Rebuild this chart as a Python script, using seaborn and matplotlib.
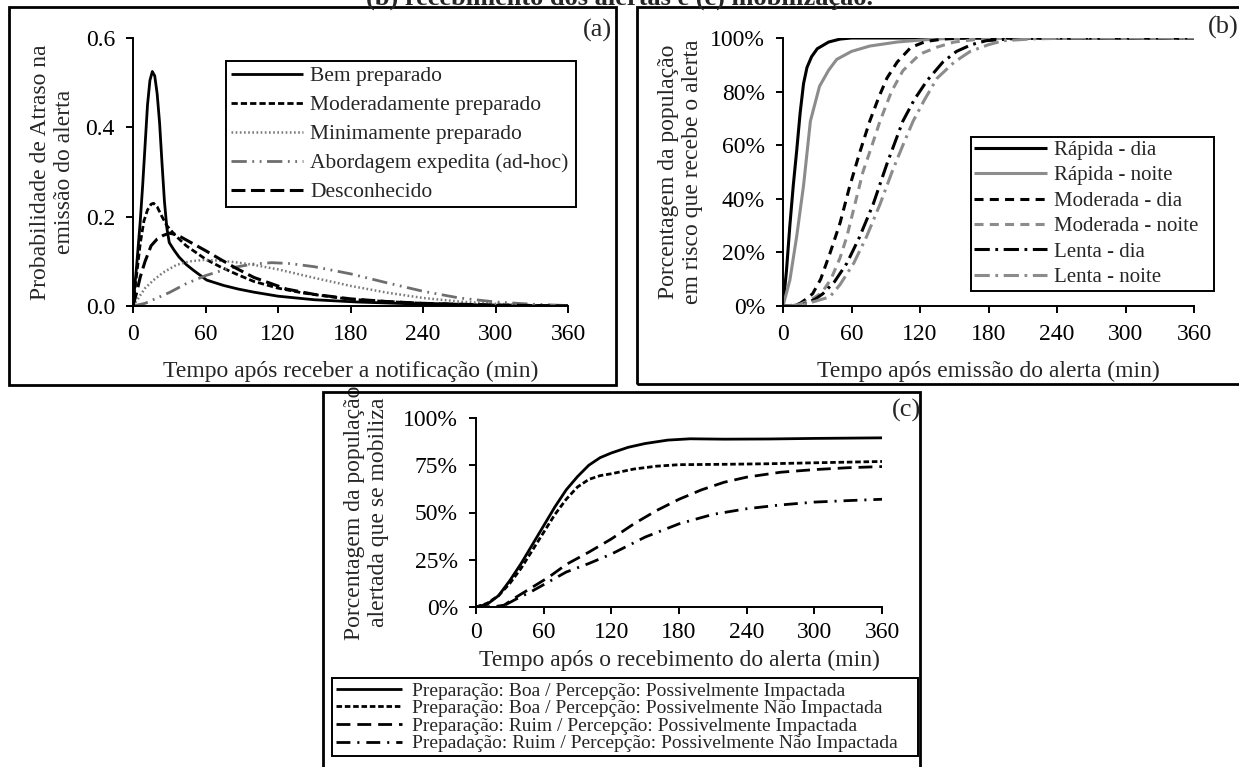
import matplotlib
matplotlib.use("Agg")
import matplotlib.pyplot as plt
import seaborn as sns
from matplotlib.patches import Rectangle
from matplotlib.ticker import FuncFormatter, FormatStrFormatter

# ---- painel (a): probabilidade de atraso na emissao do alerta ----
bem_t = [0, 3, 6, 8, 10, 12, 14, 16, 18, 20, 22, 24, 26, 28, 30, 34, 38, 44, 50, 61, 75, 87, 100, 120, 150, 185, 240, 300, 360]
bem_y = [0, 0.09, 0.19, 0.27, 0.36, 0.45, 0.505, 0.525, 0.515, 0.475, 0.41, 0.32, 0.235, 0.175, 0.142, 0.125, 0.11, 0.093, 0.08, 0.058, 0.046, 0.038, 0.031, 0.022, 0.014, 0.009, 0.004, 0.0015, 0]
mod_t = [0, 3, 6, 9, 12, 15, 17, 20, 24, 28, 35, 44, 60, 72, 85, 100, 120, 141, 160, 180, 210, 240, 300, 360]
mod_y = [0, 0.07, 0.14, 0.19, 0.215, 0.228, 0.23, 0.222, 0.2, 0.18, 0.158, 0.135, 0.105, 0.088, 0.072, 0.055, 0.04, 0.029, 0.022, 0.015, 0.01, 0.006, 0.002, 0]
min_t = [0, 5, 10, 17, 25, 36, 47, 58, 70, 85, 100, 120, 150, 180, 210, 240, 270, 300, 330, 360]
min_y = [0, 0.02, 0.04, 0.058, 0.075, 0.092, 0.1, 0.103, 0.102, 0.098, 0.092, 0.082, 0.063, 0.045, 0.03, 0.018, 0.01, 0.005, 0.002, 0]
abo_t = [0, 10, 20, 30, 44, 60, 80, 100, 115, 130, 150, 180, 210, 240, 270, 300, 330, 360]
abo_y = [0, 0.006, 0.018, 0.03, 0.05, 0.068, 0.085, 0.094, 0.097, 0.095, 0.088, 0.072, 0.052, 0.033, 0.018, 0.009, 0.004, 0.001]
des_t = [0, 3, 6, 10, 15, 20, 25, 30, 36, 44, 60, 72, 85, 100, 127, 150, 180, 210, 240, 300, 360]
des_y = [0, 0.03, 0.065, 0.1, 0.135, 0.15, 0.158, 0.163, 0.16, 0.148, 0.124, 0.105, 0.085, 0.064, 0.038, 0.026, 0.016, 0.01, 0.006, 0.002, 0]

# ---- painel (b): % da populacao em risco que recebe o alerta ----
rdia_t = [0, 3, 6, 9, 12, 15, 18, 21, 25, 30, 40, 50, 60, 360]
rdia_y = [0, 13, 30, 45, 58, 72, 83, 89, 93, 96, 98.5, 99.6, 100, 100]
rnoi_t = [0, 6, 12, 18, 24, 32, 40, 47, 60, 76, 100, 120, 150, 360]
rnoi_y = [0, 9.6, 26, 45, 69, 82, 88, 92, 95, 97, 98.5, 99.2, 100, 100]
mdia_t = [0, 10, 15, 20, 26, 33, 41, 50, 58, 67, 76, 84, 91, 100, 112, 125, 140, 160, 360]
mdia_y = [0, 0.3, 1, 2.5, 4.6, 10, 19.5, 31, 44, 57, 69, 78, 85, 91, 96.5, 98.7, 99.6, 100, 100]
mnoi_t = [0, 10, 15, 20, 27, 34, 42, 50, 56, 63, 70, 78, 85, 95, 105, 120, 135, 150, 170, 200, 360]
mnoi_y = [0, 0.2, 0.7, 1.5, 3, 5, 10, 18, 26, 38, 50, 60, 69, 80, 87.8, 94, 96.6, 98.5, 99.5, 100, 100]
ldia_t = [0, 10, 20, 28, 35, 45, 56, 67, 79, 91, 105, 115, 126, 140, 152, 165, 178, 200, 230, 360]
ldia_y = [0, 0.2, 1, 2.5, 4.6, 9, 16, 25.7, 38, 53, 69, 77, 84, 91, 95, 97.5, 99, 99.7, 100, 100]
lnoi_t = [0, 10, 20, 30, 41, 50, 62, 73, 85, 96, 106, 114, 124, 135, 150, 164, 180, 193, 220, 260, 360]
lnoi_y = [0, 0.2, 0.8, 2, 3.4, 8, 16, 25.7, 38, 50.6, 61, 69, 77, 85, 91, 95, 97.5, 99, 99.7, 100, 100]

# ---- painel (c): % da populacao alertada que se mobiliza ----
bi_t = [0, 10, 20, 30, 40, 50, 60, 70, 80, 90, 100, 110, 120, 135, 150, 170, 190, 220, 260, 300, 360]
bi_y = [0, 1.5, 6, 14, 23, 33, 43, 53, 62, 69, 75, 79, 81.5, 84.5, 86.5, 88.3, 89, 88.8, 88.9, 89.2, 89.5]
bn_t = [0, 10, 20, 30, 40, 50, 60, 70, 80, 90, 100, 110, 120, 140, 160, 180, 220, 260, 300, 360]
bn_y = [0, 2, 6, 12.5, 20.5, 30, 39.5, 49, 57, 63.5, 67.5, 69.5, 70.5, 73, 74.5, 75.3, 75.5, 75.8, 76.3, 77]
ri_t = [0, 15, 25, 35, 50, 65, 80, 100, 120, 140, 160, 180, 200, 220, 240, 270, 300, 330, 360]
ri_y = [0, 0, 1, 5, 10.5, 16, 22.5, 29, 36, 44, 51, 57, 62, 66, 68.7, 71.3, 72.7, 73.7, 74.3]
rn_t = [0, 15, 25, 35, 50, 65, 80, 100, 120, 150, 180, 210, 240, 270, 300, 330, 360]
rn_y = [0, 0, 0.8, 4, 8.5, 13.5, 18.5, 23, 28, 37, 44, 49, 52, 54, 55.5, 56.3, 57]

xticks = [0, 60, 120, 180, 240, 300, 360]

W, H = 1239, 767
FS = 17
sns.set_theme(style="white")
plt.rcParams["font.family"] = ["Liberation Serif", "DejaVu Serif"]
plt.rcParams["lines.scale_dashes"] = False

fig = plt.figure(figsize=(W / 100, H / 100), dpi=100)


def fx(px):
    return px / W


def fy(py):
    return 1 - py / H


def axes_px(x0, x1, ytop, ybot):
    return fig.add_axes([fx(x0), fy(ybot), fx(x1) - fx(x0), fy(ytop) - fy(ybot)])


def style_axes(ax, xpad):
    sns.despine(ax=ax)
    for s in ["left", "bottom"]:
        ax.spines[s].set_linewidth(1.4)
        ax.spines[s].set_color("black")
    ax.set_xlim(0, 360)
    ax.set_xticks(xticks)
    ax.tick_params(axis="both", direction="out", length=5, width=1.4, color="black",
                   labelsize=FS, labelcolor="black")
    ax.tick_params(axis="x", pad=xpad, bottom=True)
    ax.tick_params(axis="y", pad=8, left=True)
    ax.set_facecolor("white")


def draw(ax, t, y, name, color, dashes, lw):
    sns.lineplot(x=t, y=y, ax=ax, color=color, linewidth=lw, label=name)
    ln = ax.lines[-1]
    if dashes is not None:
        ln.set_dashes(dashes)
    ln.set_solid_capstyle("butt")
    ln.set_dash_capstyle("butt")


def legend(ax, bbox, fs, hl, htp, ls, bp):
    leg = ax.legend(loc="upper left", bbox_to_anchor=bbox, mode="expand", fontsize=fs,
                    handlelength=hl, handletextpad=htp, labelspacing=ls, borderpad=bp,
                    frameon=True, fancybox=False, edgecolor="black", framealpha=1,
                    borderaxespad=0)
    leg.get_frame().set_linewidth(1.4)


# painel (a)
axa = axes_px(133, 568, 38, 306)
draw(axa, bem_t, bem_y, "Bem preparado", "black", None, 2.0)
draw(axa, mod_t, mod_y, "Moderadamente preparado", "black", (4.5, 2.2), 2.0)
draw(axa, min_t, min_y, "Minimamente preparado", "#7a7a7a", (1.2, 1.8), 1.8)
draw(axa, abo_t, abo_y, "Abordagem expedita (ad-hoc)", "#6e6e6e", (11, 4, 1.3, 4, 1.3, 4), 2.0)
draw(axa, des_t, des_y, "Desconhecido", "black", (10, 4), 2.2)
style_axes(axa, 8)
axa.set_ylim(0, 0.6)
axa.set_yticks([0, 0.2, 0.4, 0.6])
axa.yaxis.set_major_formatter(FormatStrFormatter("%.1f"))
axa.set_xlabel("Tempo após receber a notificação (min)", fontsize=FS)
axa.set_ylabel("Probabilidade de Atraso na\nemissão do alerta", fontsize=FS)
axa.xaxis.set_label_coords(0.5, -0.205)
axa.yaxis.set_label_coords(-0.133, 0.5)
legend(axa, (0.214, 0.351, 0.804, 0.563), 15.5, 3.3, 0.35, 0.41, 0.25)

# painel (b)
axb = axes_px(783, 1194, 38, 306)
draw(axb, rdia_t, rdia_y, "Rápida - dia", "black", None, 2.2)
draw(axb, rnoi_t, rnoi_y, "Rápida - noite", "#8c8c8c", None, 2.2)
draw(axb, mdia_t, mdia_y, "Moderada - dia", "black", (6.5, 4.5), 2.2)
draw(axb, mnoi_t, mnoi_y, "Moderada - noite", "#8c8c8c", (6.5, 4.5), 2.2)
draw(axb, ldia_t, ldia_y, "Lenta - dia", "black", (11, 4, 2, 4), 2.2)
draw(axb, lnoi_t, lnoi_y, "Lenta - noite", "#8c8c8c", (11, 4, 2, 4), 2.2)
style_axes(axb, 8)
axb.set_ylim(0, 100)
axb.set_yticks([0, 20, 40, 60, 80, 100])
axb.yaxis.set_major_formatter(FuncFormatter(lambda v, p: f"{v:.0f}%"))
axb.set_xlabel("Tempo após emissão do alerta (min)", fontsize=FS)
axb.set_ylabel("Porcentagem da população\nem risco que recebe o alerta", fontsize=FS)
axb.xaxis.set_label_coords(0.5, -0.205)
axb.yaxis.set_label_coords(-0.195, 0.5)
legend(axb, (0.457, 0.045, 0.592, 0.586), 15, 3.5, 0.3, 0.28, 0.17)

# painel (c)
axc = axes_px(476, 882, 418, 607)
draw(axc, bi_t, bi_y, "Preparação: Boa / Percepção: Possivelmente Impactada", "black", None, 2.0)
draw(axc, bn_t, bn_y, "Preparação: Boa / Percepção: Possivelmente Não Impactada", "black", (4, 2), 2.0)
draw(axc, ri_t, ri_y, "Preparação: Ruim / Percepção: Possivelmente Impactada", "black", (10, 5), 2.0)
draw(axc, rn_t, rn_y, "Prepadação: Ruim / Percepção: Possivelmente Não Impactada", "black", (10, 5, 1.5, 5), 2.0)
style_axes(axc, 6)
axc.set_ylim(0, 100)
axc.set_yticks([0, 25, 50, 75, 100])
axc.yaxis.set_major_formatter(FuncFormatter(lambda v, p: f"{v:.0f}%"))
axc.set_xlabel("Tempo após o recebimento do alerta (min)", fontsize=FS)
axc.set_ylabel("Porcentagem da população\nalertada que se mobiliza", fontsize=FS)
axc.xaxis.set_label_coords(0.5, -0.225)
axc.yaxis.set_label_coords(-0.214, 0.5)
legend(axc, (-0.355, -0.816, 1.444, 0.44), 14, 3.4, 0.5, 0.0, 0.2)

# molduras dos paineis
for x0, y0, x1, y1 in [(9, 7, 616, 385), (637, 7, 1250, 384), (323, 392, 920, 772)]:
    fig.add_artist(Rectangle((fx(x0), fy(y1)), fx(x1) - fx(x0), fy(y0) - fy(y1),
                             transform=fig.transFigure, fill=False, lw=2, ec="black"))

fig.text(fx(612), fy(30), "(a)", ha="right", va="center", fontsize=19)
fig.text(fx(1239), fy(27), "(b)", ha="right", va="center", fontsize=19)
fig.text(fx(921), fy(410), "(c)", ha="right", va="center", fontsize=19)
fig.text(fx(619), fy(5), "(b) recebimento dos alertas e (c) mobilização.", ha="center",
         va="baseline", fontsize=19, fontweight="bold")

fig.savefig("out.png", dpi=100, facecolor="white")
